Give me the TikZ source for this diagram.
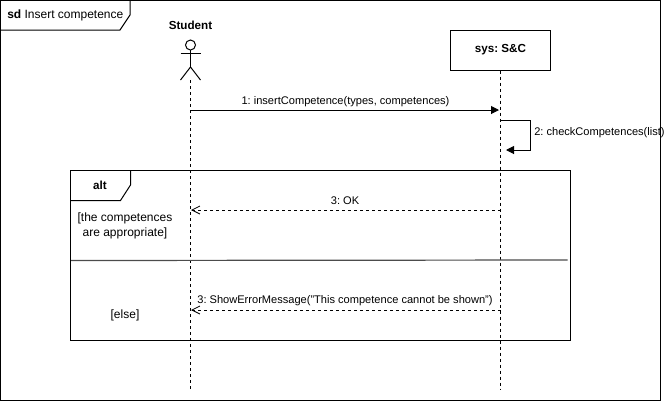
\documentclass[tikz,border=0pt]{standalone}
\usepackage{fontspec}
\setmainfont{Liberation Sans}
\usetikzlibrary{arrows.meta}
\frenchspacing
\tikzset{
  lbl/.style={inner sep=0pt,font=\fontsize{8.3pt}{10.5pt}\selectfont,align=center},
  big/.style={inner sep=0pt,font=\fontsize{9pt}{11.25pt}\selectfont,align=center},
  head/.style={inner sep=0pt,font=\fontsize{8.75pt}{10.5pt}\selectfont\bfseries},
  line/.style={draw=black,line width=0.75pt},
  life/.style={line width=0.75pt,dash pattern=on 2.25pt off 2.25pt},
  call/.style={line width=0.75pt,-{Triangle[length=6pt,width=6pt]}},
  reply/.style={line width=0.6pt,dash pattern=on 2.25pt off 2.25pt,-{Straight Barb[length=6pt,width=6pt]}}
}
\begin{document}
\begin{tikzpicture}[x=0.75pt,y=-0.75pt]
  \useasboundingbox (0,0) rectangle (665,401);
  % outer frame
  \draw[line] (0.5,0.5) rectangle (660.5,400);
  \draw[line] (0.5,30) -- (120,30) -- (130,15) -- (130,0.5);
  \node[big,anchor=west] (title) at (7,15) {\textbf{sd} Insert competence};
  % actor
  \node[head] (student) at (190.5,25) {Student};
  \draw[line] (190.5,45) circle (5);
  \draw[line] (190.5,50) -- (190.5,67);
  \draw[line] (180.5,53) -- (200.5,53);
  \draw[line] (180.5,80) -- (190.5,67) -- (200.5,80);
  \coordinate (studenttop) at (190.5,80);
  \coordinate (studentend) at (190.5,390);
  % system
  \node[line,head,minimum width=75pt,minimum height=30pt] (sys) at (500.5,50) {sys: S\&C};
  \coordinate (sysend) at (500.5,390);
  \draw[life] (studenttop) -- (studentend);
  \draw[life] (sys) -- (sysend);
  % messages
  \coordinate (m1a) at (190.5,110);
  \coordinate (m1b) at (499,110);
  \draw[call] (m1a) -- (m1b);
  \node[lbl] (m1) at (345.5,102) {1: insertCompetence(types, competences)};
  \coordinate (m2a) at (500.5,120);
  \coordinate (m2b) at (506,150);
  \draw[call] (m2a) -- (530.5,120) -- (530.5,150) -- (m2b);
  \node[lbl,anchor=west] (m2) at (534,133) {2: checkCompetences(list)};
  % alt fragment
  \draw[line] (70.5,170.5) rectangle (570.5,340.5);
  \draw[line] (70.5,200.5) -- (120.5,200.5) -- (130.5,185) -- (130.5,170.5);
  \node[head] (alt) at (100,185) {alt};
  \node[big] (cond) at (125,225.5) {[the competences\\are appropriate]};
  \draw[line width=0.9pt,draw=black!70] (71,260.5) -- (567.5,260);
  \node[big] (else) at (125,315) {[else]};
  \coordinate (m3a) at (500.5,210);
  \coordinate (m3b) at (191,210);
  \draw[reply] (m3a) -- (m3b);
  \node[lbl] (m3) at (345,201) {3: OK};
  \coordinate (m4a) at (500.5,310);
  \coordinate (m4b) at (191,310);
  \draw[reply] (m4a) -- (m4b);
  \node[lbl] (m4) at (345,301) {3: ShowErrorMessage("This competence cannot be shown")};
\end{tikzpicture}
\end{document}
